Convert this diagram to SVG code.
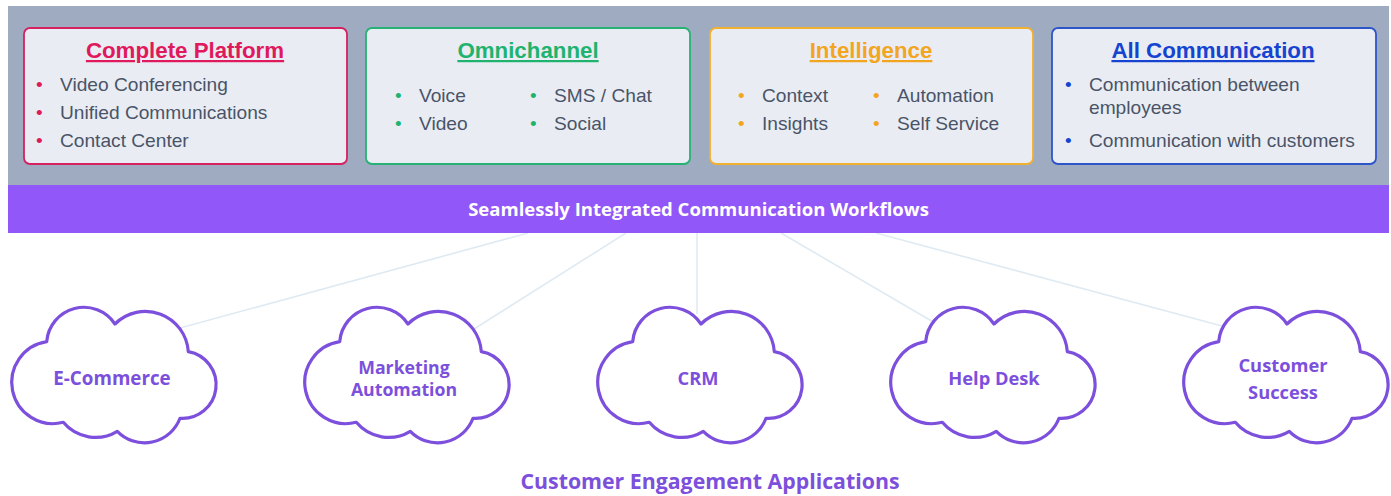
<svg xmlns="http://www.w3.org/2000/svg" width="1391" height="496" viewBox="0 0 1391 496">
<style>
.card{fill:#e9edf3;stroke-width:1.8}
.t{font:700 22.3px "Liberation Sans",Arial,sans-serif;text-anchor:middle;text-decoration:underline}
.b{font:19.15px "Liberation Sans",Arial,sans-serif;fill:#4a5468}
.d{font:19px "Liberation Sans",Arial,sans-serif}
.cl{fill:#fff;stroke:#7c4fdc;stroke-width:3.2;stroke-linejoin:round}
.cn{font:700 18.3px "Open Sans",sans-serif;fill:#7c4fdc;text-anchor:middle}
.c{stroke:#dfeaf2;stroke-width:1.6;fill:none}
</style>
<defs>
<path id="cloud" d="M115 324A43 43 0 0 1 188.300 351.700A33.600 33.600 0 0 1 180 418.300A38 38 0 0 1 117.300 431.300A42 42 0 0 1 63.300 422.300A41.200 41.200 0 1 1 46.700 341.700A37.300 37.300 0 0 1 115 324Z"/>
</defs>
<rect x="8" y="6" width="1381" height="180" fill="#9eabc1"/>
<g id="connectors">
<path class="c" d="M528 233L180 328M626 233L474 329M697 233V314M781 233L935 323M876 233L1222 326"/>
</g>
<g id="bar"><rect x="8" y="185" width="1381" height="48" fill="#9257f8"/>
<text x="698.500" y="215.500" text-anchor="middle" style="font:700 18.550px 'Open Sans',sans-serif" fill="#fff">Seamlessly Integrated Communication Workflows</text></g>
<g id="complete-platform">
<rect class="card" x="24" y="28" width="323" height="136" rx="6" stroke="#d6205f"/>
<text class="t" x="185" y="58" fill="#e0185c">Complete Platform</text>
<g class="d" fill="#e0185c"><text x="36" y="91">•</text><text x="36" y="119">•</text><text x="36" y="147">•</text></g>
<text class="b" x="60" y="91">Video Conferencing</text><text class="b" x="60" y="119">Unified Communications</text><text class="b" x="60" y="147">Contact Center</text>
</g>
<g id="omnichannel">
<rect class="card" x="366" y="28" width="324" height="136" rx="6" stroke="#25b274"/>
<text class="t" x="528" y="58" fill="#1fb36f">Omnichannel</text>
<g class="d" fill="#1fb36f"><text x="395" y="102">•</text><text x="395" y="130">•</text><text x="530" y="102">•</text><text x="530" y="130">•</text></g>
<text class="b" x="419" y="102">Voice</text><text class="b" x="419" y="130">Video</text><text class="b" x="554" y="102">SMS / Chat</text><text class="b" x="554" y="130">Social</text>
</g>
<g id="intelligence">
<rect class="card" x="710" y="28" width="323" height="136" rx="6" stroke="#f0b030"/>
<text class="t" x="871" y="58" fill="#f2a51f">Intelligence</text>
<g class="d" fill="#f2a51f"><text x="738" y="102">•</text><text x="738" y="130">•</text><text x="873" y="102">•</text><text x="873" y="130">•</text></g>
<text class="b" x="762" y="102">Context</text><text class="b" x="762" y="130">Insights</text><text class="b" x="897" y="102">Automation</text><text class="b" x="897" y="130">Self Service</text>
</g>
<g id="all-communication">
<rect class="card" x="1052" y="28" width="324" height="136" rx="6" stroke="#2d55c8"/>
<text class="t" x="1213" y="58" fill="#1643d0">All Communication</text>
<g class="d" fill="#1643d0"><text x="1065" y="91">•</text><text x="1065" y="147">•</text></g>
<text class="b" x="1089" y="91">Communication between<tspan x="1089" y="114">employees</tspan></text><text class="b" x="1089" y="147">Communication with customers</text>
</g>
<g id="e-commerce"><use href="#cloud" class="cl"/><text class="cn" x="112" y="385" style="font-size:18.8px">E-Commerce</text></g>
<g id="marketing-automation"><use href="#cloud" class="cl" x="293"/><text class="cn" x="404" y="373.500" style="font-size:17.700px">Marketing<tspan x="404" y="396">Automation</tspan></text></g>
<g id="crm"><use href="#cloud" class="cl" x="586"/><text class="cn" x="698" y="385">CRM</text></g>
<g id="help-desk"><use href="#cloud" class="cl" x="879"/><text class="cn" x="994" y="385">Help Desk</text></g>
<g id="customer-success"><use href="#cloud" class="cl" x="1172"/><text class="cn" x="1283" y="372">Customer<tspan x="1283" y="399">Success</tspan></text></g>
<text x="710" y="489" text-anchor="middle" style="font:700 21.300px 'Open Sans',sans-serif" fill="#7c4fdc">Customer Engagement Applications</text>
</svg>
